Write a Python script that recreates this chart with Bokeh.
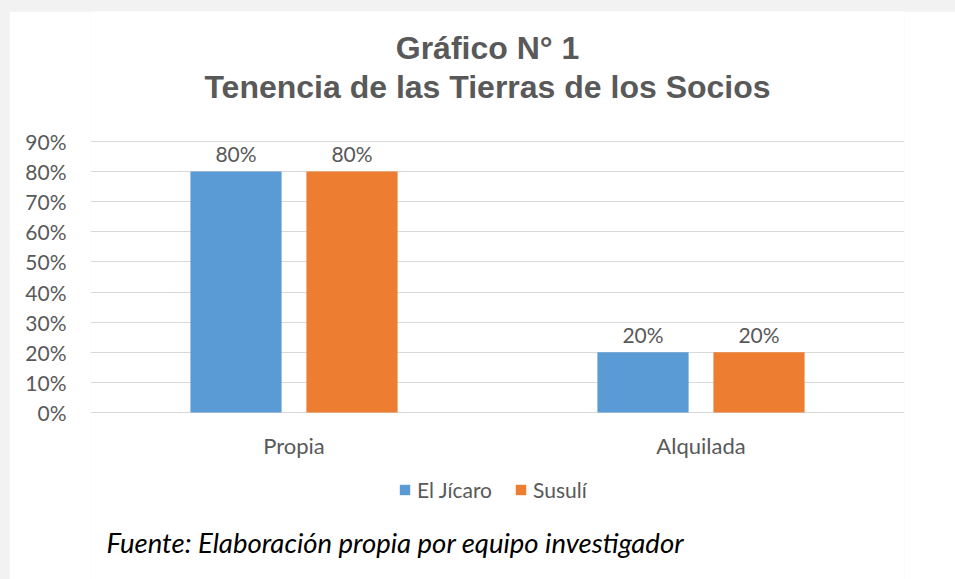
from bokeh.plotting import figure
from bokeh.models import (ColumnDataSource, FactorRange, Range1d, NumeralTickFormatter,
                          FixedTicker, Label, Legend, LegendItem)
from bokeh.transform import dodge
from bokeh.core.properties import value
from bokeh.embed import file_html
from bokeh.resources import INLINE

# ---- data ----
categories = ["Propia", "Alquilada"]
series_names = ["El Jícaro", "Susulí"]
el_jicaro = [0.80, 0.20]
susuli = [0.80, 0.20]
y_ticks = [0.0, 0.1, 0.2, 0.3, 0.4, 0.5, 0.6, 0.7, 0.8, 0.9]
title_lines = ["Gráfico N° 1", "Tenencia de las Tierras de los Socios"]
footer_text = "Fuente: Elaboración propia por equipo investigador"

colors = ["#5B9BD5", "#ED7D31"]
TXT = "#595959"
FONT = "Lato"

# ---- layout (pixels) ----
W, H = 946, 568          # figure size (page offset 9,11)
LEFT, RIGHT = 81, 51     # space left/right of the plotting area
Y_TOP_PX = 130           # pixel row of the top tick (90%)
Y_ZERO_PX = 401          # pixel row of 0%
ppu = (Y_ZERO_PX - Y_TOP_PX) / y_ticks[-1]
y_start = -(H - Y_ZERO_PX) / ppu
y_end = y_ticks[-1] + Y_TOP_PX / ppu

src = ColumnDataSource(dict(
    cat=categories,
    a=el_jicaro,
    b=susuli,
    base=[0.0] * len(categories),
    a_lbl=[f"{v:.0%}" for v in el_jicaro],
    b_lbl=[f"{v:.0%}" for v in susuli],
))

p = figure(width=W, height=H, output_backend="svg", toolbar_location=None,
           x_range=FactorRange(*categories, range_padding=0),
           y_range=Range1d(y_start, y_end), x_axis_location=None,
           min_border_left=LEFT, min_border_right=RIGHT, min_border_top=0, min_border_bottom=0)
p.outline_line_color = None
p.background_fill_color = "white"
p.border_fill_color = "white"

off = 0.1425
bw = 0.224
r1 = p.vbar(x=dodge("cat", -off, range=p.x_range), top="a", width=bw, source=src,
            fill_color=colors[0], line_color=None)
r2 = p.vbar(x=dodge("cat", off, range=p.x_range), top="b", width=bw, source=src,
            fill_color=colors[1], line_color=None)

for key, o in (("a", -off), ("b", off)):
    p.text(x=dodge("cat", o, range=p.x_range), y=key, text=key + "_lbl", source=src,
           text_align="center", text_baseline="alphabetic", y_offset=-18,
           text_font=value(FONT), text_font_size="21px", text_color=TXT)

# category labels (x axis)
p.text(x="cat", y="base", text="cat", source=src, text_align="center",
       text_baseline="alphabetic", y_offset=33,
       text_font=value(FONT), text_font_size="22px", text_color=TXT)

# y axis
p.yaxis.ticker = FixedTicker(ticks=y_ticks)
p.yaxis.formatter = NumeralTickFormatter(format="0%")
p.yaxis.axis_line_color = None
p.yaxis.major_tick_line_color = None
p.yaxis.minor_tick_line_color = None
p.yaxis.major_tick_out = 0
p.yaxis.major_label_standoff = 24
p.yaxis.major_label_text_font = FONT
p.yaxis.major_label_text_font_size = "21px"
p.yaxis.major_label_text_color = TXT

p.xgrid.grid_line_color = None
p.ygrid.ticker = FixedTicker(ticks=y_ticks)
p.ygrid.grid_line_color = "#D9D9D9"
p.ygrid.grid_line_width = 1

legend = Legend(items=[LegendItem(label=series_names[0], renderers=[r1]),
                       LegendItem(label=series_names[1], renderers=[r2])],
                orientation="horizontal", location=(308, 77),
                glyph_width=13, glyph_height=13, label_standoff=6, spacing=22,
                padding=0, margin=0, border_line_color=None, background_fill_alpha=0,
                label_text_font=FONT, label_text_font_size="21px", label_text_color=TXT)
p.add_layout(legend, "center")

# title lines (screen units relative to plotting area, y up from bottom)
for txt, yy in ((title_lines[0], H - 36), (title_lines[1], H - 75)):
    p.add_layout(Label(x=397, y=yy, x_units="screen", y_units="screen", text=txt,
                       text_align="center", text_baseline="alphabetic",
                       text_font="Liberation Sans", text_font_style="bold",
                       text_font_size="32px", text_color=TXT))
# footer
p.add_layout(Label(x=16, y=37, x_units="screen", y_units="screen", text=footer_text,
                   text_align="left", text_baseline="alphabetic",
                   text_font=FONT, text_font_style="italic",
                   text_font_size="27.5px", text_color="black"))

html = file_html(p, INLINE)
html = html.replace("</head>",
                    "<style>html,body{margin:0;background:#f2f2f2;overflow:hidden;}"
                    "body{padding:11px 0 0 9px;}"
                    "body::before{content:'';position:fixed;left:8px;top:10px;right:0;bottom:0;"
                    "border-top:1px solid #d9d9d9;border-left:1px solid #d9d9d9;"
                    "background:white;z-index:-1;}</style></head>", 1)
open("out.html", "w").write(html)
